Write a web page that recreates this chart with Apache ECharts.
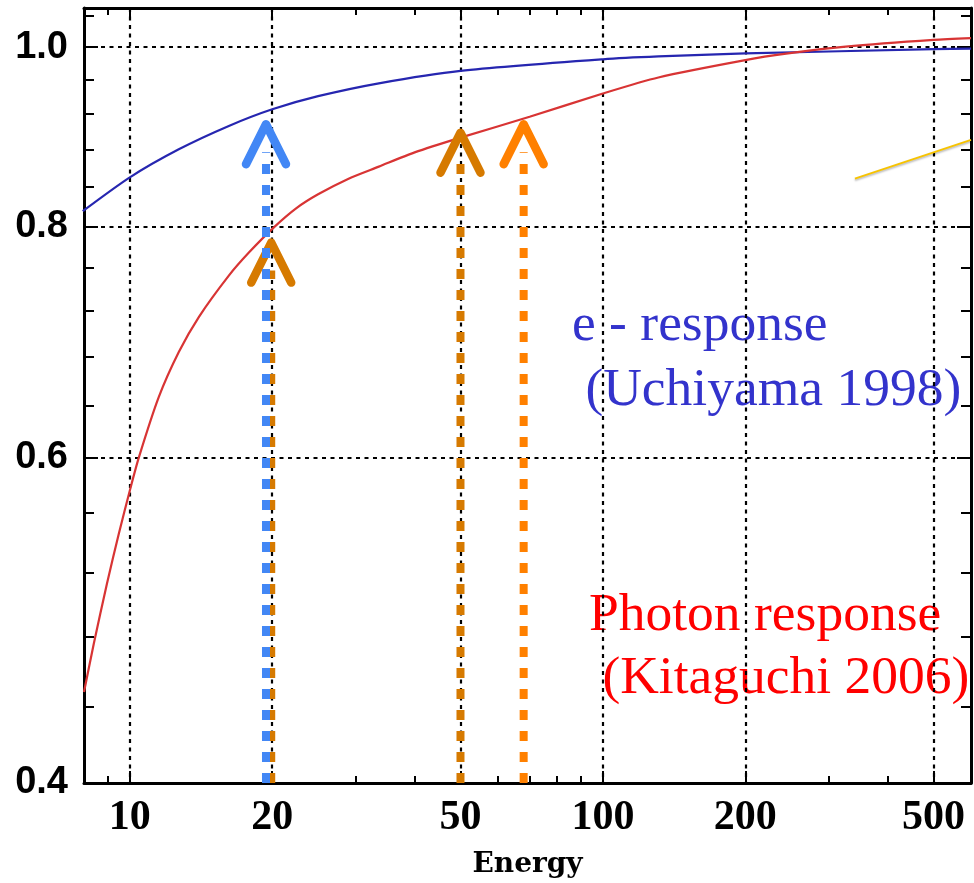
<!DOCTYPE html>
<html><head><meta charset="utf-8">
<script src="https://cdn.jsdelivr.net/npm/echarts@6/dist/echarts.min.js"></script>
<style>html,body{margin:0;padding:0;background:#fff}#c{width:974px;height:883px}</style>
</head><body><div id="c"></div>
<script>
// ---- data ----
const electronEnergy = [7.95, 10, 12.69, 16.19, 20, 25, 33.6, 50, 100, 131, 200, 500, 600];
const electronResponse = [0.8153, 0.8504, 0.8806, 0.9066, 0.9256, 0.9408, 0.956, 0.9709, 0.985, 0.9885, 0.9922, 0.9975, 0.9981];
const photonEnergy = [8.0, 8.39, 8.94, 9.48, 10, 10.45, 11.51, 12.69, 14.0, 16.19, 17.85, 20.16, 22.5, 25, 29, 33.6, 40, 50, 70, 100, 131, 200, 244, 326, 500, 600];
const photonResponse = [0.448, 0.4757, 0.5123, 0.5458, 0.5758, 0.600, 0.6467, 0.6841, 0.7148, 0.7524, 0.7743, 0.799, 0.8184, 0.8326, 0.8490, 0.8618, 0.8772, 0.8935, 0.917, 0.944, 0.963, 0.984, 0.9919, 1.0006, 1.0091, 1.0113];
const xMajorTicks = [10, 20, 50, 100, 200, 500];
const xMinorTicks = [9, 30, 40, 60, 70, 80, 90, 300, 400];
const yMajorTicks = [0.4, 0.6, 0.8, 1.0];
const yMinorTicks = [0.44, 0.48, 0.52, 0.56, 0.64, 0.68, 0.72, 0.76, 0.84, 0.88, 0.92, 0.96, 1.04];
const arrowEnergy = [50, 68, 19.9, 19.4];
const arrowTipValue = [0.899, 0.9085, 0.784, 0.9085];
const leaderEnergy = [341, 600];
const leaderValue = [0.849, 0.891];
const xLabel = 'Energy';
const annotations = [
  ['e - response', ' (Uchiyama 1998)'],
  ['Photon response', ' (Kitaguchi 2006)']
];

// ---- styles ----
const arrowColors = ['#D67A00', '#FF8000', '#D67A00', '#4287F5'];
const X_MIN = 8, X_MAX = 600, Y_MIN = 0.4, Y_MAX = 1.05;
const gridDash = { color: '#000', width: 2.2, type: [4, 4.5] };

function xAxisDef(pos, ticks, len, major) {
  const main = major && pos === 'bottom';
  return {
    type: 'log', logBase: 10, min: X_MIN, max: X_MAX, position: pos,
    axisLine: { show: major, onZero: false, lineStyle: { color: '#000', width: 3 } },
    axisTick: { show: true, inside: true, length: len, customValues: ticks, lineStyle: { color: '#000', width: 2 } },
    axisLabel: main ? {
      show: true, customValues: ticks, margin: 14, color: '#000',
      fontFamily: 'Liberation Serif', fontWeight: 'bold', fontSize: 42,
      formatter: v => String(Math.round(v))
    } : { show: false },
    splitLine: main ? { show: true, lineStyle: gridDash } : { show: false },
    minorTick: { show: false }, minorSplitLine: { show: false },
    name: main ? xLabel : '',
    nameLocation: 'middle', nameGap: 68,
    nameTextStyle: { fontFamily: 'DejaVu Serif', fontWeight: 'bold', fontSize: 28, color: '#000' }
  };
}
function yAxisDef(pos, ticks, len, major) {
  const main = major && pos === 'left';
  return {
    type: 'log', logBase: 10, min: Y_MIN, max: Y_MAX, position: pos,
    axisLine: { show: major, onZero: false, lineStyle: { color: '#000', width: 3 } },
    axisTick: { show: true, inside: true, length: len, customValues: ticks, lineStyle: { color: '#000', width: 2 } },
    axisLabel: main ? {
      show: true, customValues: ticks, margin: 16, color: '#000',
      fontFamily: 'Liberation Sans', fontWeight: 'bold', fontSize: 38,
      formatter: v => Number(v).toFixed(1)
    } : { show: false },
    splitLine: main ? { show: true, lineStyle: gridDash } : { show: false },
    minorTick: { show: false }, minorSplitLine: { show: false }
  };
}

const chart = echarts.init(document.getElementById('c'), null, { renderer: 'canvas' });
const annFont = '53.5px "Liberation Serif"';
const option = {
  backgroundColor: '#fff',
  animation: false,
  grid: { left: 84, top: 8, right: 3, bottom: 100, containLabel: false, outerBoundsMode: 'none' },
  xAxis: [
    xAxisDef('bottom', xMajorTicks, 12, true),
    xAxisDef('bottom', xMinorTicks, 7, false),
    xAxisDef('top', xMajorTicks, 12, true),
    xAxisDef('top', xMinorTicks, 7, false)
  ],
  yAxis: [
    yAxisDef('left', yMajorTicks, 14, true),
    yAxisDef('left', yMinorTicks, 10, false),
    yAxisDef('right', yMajorTicks, 14, true),
    yAxisDef('right', yMinorTicks, 10, false)
  ],
  series: [
    {
      type: 'line', name: 'e - response', xAxisIndex: 0, yAxisIndex: 0, z: 3,
      data: electronEnergy.map((e, i) => [e, electronResponse[i]]),
      smooth: 0.25, showSymbol: false, symbol: 'none',
      lineStyle: { color: '#2626B0', width: 2.2 }
    },
    {
      type: 'line', name: 'Photon response', xAxisIndex: 0, yAxisIndex: 0, z: 3,
      data: photonEnergy.map((e, i) => [e, photonResponse[i]]),
      smooth: 0.25, showSymbol: false, symbol: 'none',
      lineStyle: { color: '#D83434', width: 2.2 }
    },
    {
      type: 'line', name: 'leader', xAxisIndex: 0, yAxisIndex: 0, z: 4,
      data: leaderEnergy.map((e, i) => [e, leaderValue[i]]),
      showSymbol: false, symbol: 'none', clip: false,
      lineStyle: { color: '#F7C300', width: 2, shadowColor: 'rgba(0,0,0,0.3)', shadowBlur: 2, shadowOffsetY: 1.5 }
    },
    {
      type: 'custom', name: 'arrows', xAxisIndex: 0, yAxisIndex: 0, z: 6, clip: false,
      data: arrowEnergy.map((e, i) => [e, arrowTipValue[i]]),
      renderItem: function (params, api) {
        const e = api.value(0), tip = api.value(1);
        const color = arrowColors[params.dataIndex];
        const pTip = api.coord([e, tip]);
        const pBase = api.coord([e, Y_MIN]);
        return {
          type: 'group',
          children: [
            { type: 'line', shape: { x1: pBase[0], y1: pBase[1], x2: pTip[0], y2: pTip[1] + 28 },
              style: { stroke: color, lineWidth: 8, lineDash: [10, 11], lineCap: 'butt' } },
            { type: 'polyline', shape: { points: [[pTip[0] - 20, pTip[1] + 40], [pTip[0], pTip[1]], [pTip[0] + 20, pTip[1] + 40]] },
              style: { stroke: color, lineWidth: 8.5, lineCap: 'round', lineJoin: 'round', fill: null } }
          ]
        };
      }
    }
  ],
  graphic: [
    { type: 'text', left: 572, top: 299, style: { text: annotations[0][0], fill: '#3333CC', font: annFont } },
    { type: 'text', left: 572, top: 364, style: { text: annotations[0][1], fill: '#3333CC', font: annFont } },
    { type: 'text', left: 589, top: 589, style: { text: annotations[1][0], fill: '#FF0000', font: annFont } },
    { type: 'text', left: 589, top: 652, style: { text: annotations[1][1], fill: '#FF0000', font: annFont } }
  ]
};
chart.setOption(option);
</script>
</body></html>
